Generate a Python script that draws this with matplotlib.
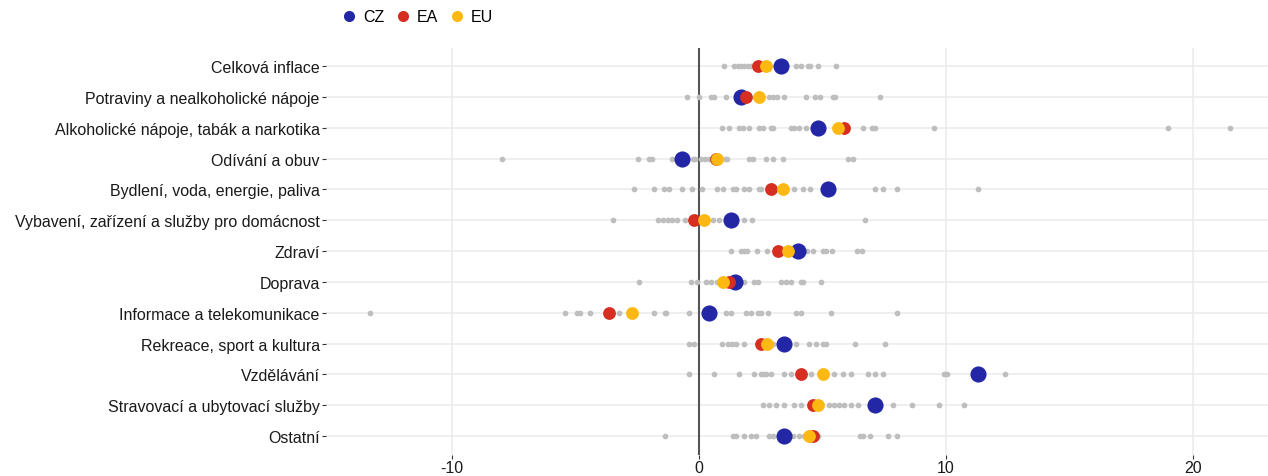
import matplotlib
matplotlib.use("Agg")
import matplotlib.pyplot as plt
from matplotlib.lines import Line2D
from matplotlib import font_manager

names = {f.name for f in font_manager.fontManager.ttflist}
main_font = 'Liberation Sans Narrow' if 'Liberation Sans Narrow' in names else 'Liberation Sans'
plt.rcParams['font.family'] = [main_font, 'DejaVu Sans']
FS = 14.6 if main_font == 'Liberation Sans Narrow' else 11.5

categories = [
    "Celková inflace",
    "Potraviny a nealkoholické nápoje",
    "Alkoholické nápoje, tabák a narkotika",
    "Odívání a obuv",
    "Bydlení, voda, energie, paliva",
    "Vybavení, zařízení a služby pro domácnost",
    "Zdraví",
    "Doprava",
    "Informace a telekomunikace",
    "Rekreace, sport a kultura",
    "Vzdělávání",
    "Stravovací a ubytovací služby",
    "Ostatní",
]

cz = [3.32, 1.70, 4.83, -0.70, 5.22, 1.31, 4.02, 1.44, 0.40, 3.43, 11.3, 7.14, 3.43]
ea = [2.40, 1.92, 5.88, 0.70, 2.91, -0.20, 3.20, 1.21, -3.63, 2.51, 4.12, 4.60, 4.60]
eu = [2.73, 2.42, 5.63, 0.72, 3.41, 0.20, 3.62, 0.99, -2.71, 2.74, 5.03, 4.83, 4.44]

others = [
    [1.01, 1.40, 1.57, 1.70, 1.84, 1.97, 2.10, 2.20, 2.30, 3.93, 4.13, 4.40, 4.51, 4.83, 5.55],
    [-0.50, 0.0, 0.49, 0.62, 1.11, 2.85, 2.98, 3.14, 3.43, 4.33, 4.71, 4.91, 5.41, 5.52, 7.34],
    [0.92, 1.23, 1.61, 1.77, 2.04, 2.42, 2.60, 2.91, 3.01, 3.72, 3.86, 4.04, 4.33, 6.63, 7.00,
     7.14, 9.51, 19.0, 21.5],
    [-7.98, -2.48, -2.04, -1.90, -1.09, -0.26, -0.15, 0.08, 0.26, 0.39, 1.07, 1.15, 2.01, 2.20,
     2.71, 3.01, 3.41, 6.02, 6.25],
    [-2.62, -1.81, -1.40, -1.20, -0.69, -0.28, 0.11, 0.72, 0.99, 1.39, 1.50, 1.81, 2.01, 2.42,
     2.51, 3.86, 4.22, 4.51, 7.14, 7.44, 8.02, 11.3],
    [-3.50, -1.67, -1.47, -1.27, -1.09, -0.90, -0.55, 0.55, 0.80, 1.81, 2.13, 6.73],
    [1.31, 1.69, 1.82, 1.96, 2.36, 2.74, 4.39, 4.62, 5.02, 5.16, 5.40, 6.41, 6.61],
    [-2.43, -0.31, -0.07, 0.30, 0.50, 0.74, 1.82, 2.23, 2.40, 3.31, 3.51, 3.71, 4.12, 4.22, 4.93],
    [-13.3, -5.43, -4.93, -4.83, -4.43, -3.23, -1.81, -1.39, -1.32, -0.40, 1.08, 1.28, 1.92,
     2.12, 2.40, 2.50, 2.81, 3.91, 4.12, 5.33, 8.03],
    [-0.42, -0.19, 0.92, 1.16, 1.34, 1.50, 1.81, 2.98, 3.93, 4.44, 4.74, 5.03, 5.14, 6.33, 7.54],
    [-0.39, 0.62, 1.63, 2.21, 2.51, 2.62, 2.71, 2.91, 3.43, 3.72, 4.53, 5.45, 5.84, 6.15, 6.83,
     7.14, 7.44, 9.92, 10.04, 12.4],
    [2.60, 2.85, 3.12, 3.43, 3.83, 4.13, 5.25, 5.48, 5.68, 5.88, 6.15, 6.42, 7.84, 8.63, 9.73, 10.73],
    [-1.39, 1.39, 1.50, 1.81, 2.11, 2.31, 2.85, 2.98, 3.79, 4.06, 4.26, 4.84, 6.53, 6.63, 6.94,
     7.64, 8.02],
]

series_names = ["CZ", "EA", "EU"]
xticks = [-10, 0, 10, 20]

C_CZ = "#2327A6"
C_EA = "#D62E20"
C_EU = "#FDB812"
C_GRAY = "#BEBEBE"

W, H = 1268, 477
fig = plt.figure(figsize=(W / 100, H / 100), dpi=100)
left, right, top, bottom = 326, 1268, 48.5, 455.5
ax = fig.add_axes([left / W, 1 - bottom / H, (right - left) / W, (bottom - top) / H])

n = len(categories)
ypos = [n - i for i in range(n)]

for y in ypos:
    ax.axhline(y, color="#EBEBEB", lw=1.1, zorder=0)
for xt in xticks:
    if xt != 0:
        ax.axvline(xt, color="#EBEBEB", lw=1.1, zorder=0)
ax.axvline(0, color="#555555", lw=1.5, zorder=1)

for y, vals in zip(ypos, others):
    ax.scatter(vals, [y] * len(vals), s=17, color=C_GRAY, linewidths=0, zorder=2)

ax.scatter(cz, ypos, s=135, color=C_CZ, linewidths=0, zorder=3)
ax.scatter(ea, ypos, s=85, color=C_EA, linewidths=0, zorder=4)
ax.scatter(eu, ypos, s=85, color=C_EU, linewidths=0, zorder=5)

ax.set_xlim(-15.1, 23.04)
ax.set_ylim(0.4, 13.6)
ax.set_yticks(ypos)
ax.set_yticklabels(categories)
ax.set_xticks(xticks)
ax.set_xticklabels([str(x) for x in xticks])
ax.tick_params(axis="y", length=3, width=0.8, color="#333333", labelsize=FS, labelcolor="#1a1a1a", pad=1.5)
ax.tick_params(axis="x", length=3, width=0.8, color="#333333", labelsize=FS, labelcolor="#1a1a1a", pad=1)
for s in ax.spines.values():
    s.set_visible(False)

handles = [
    Line2D([], [], marker="o", linestyle="none", markersize=8, markerfacecolor=c, markeredgewidth=0)
    for c in (C_CZ, C_EA, C_EU)
]
fig.legend(handles, series_names, loc="center left", bbox_to_anchor=(339 / W, 1 - 18 / H),
           ncol=3, frameon=False, fontsize=FS, handletextpad=0.3, columnspacing=0.55,
           handlelength=1.2, borderaxespad=0, borderpad=0)

fig.savefig("out.png", dpi=100)
